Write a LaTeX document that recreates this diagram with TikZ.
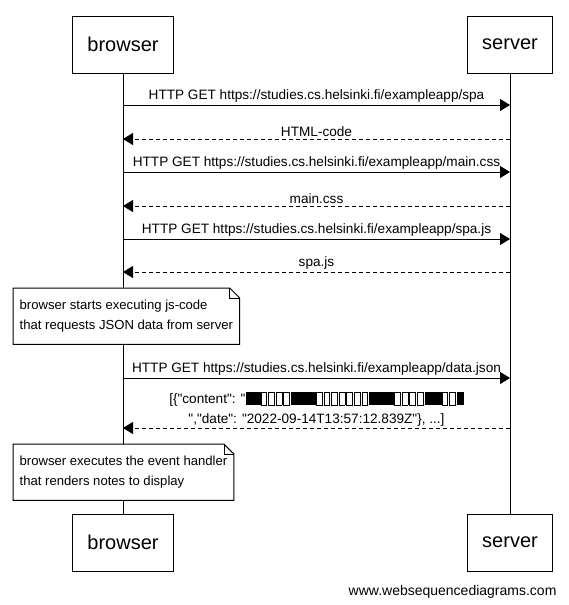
\documentclass[tikz,border=0pt]{standalone}
\usepackage{fontspec}
\setmainfont{Liberation Sans}[Ligatures=TeXOff]
\usetikzlibrary{arrows.meta,positioning}
\tikzstyle{actor} = [rectangle, draw, line width=1pt, minimum height=57pt, inner xsep=14.5pt, font=\fontsize{20}{24}\selectfont]
\tikzstyle{lifeline} = [line width=1pt]
\tikzstyle{msg} = [line width=1pt, -{Triangle[length=10pt,width=12pt]}]
\tikzstyle{reply} = [msg, dash pattern=on 4pt off 3pt]
\tikzstyle{msglabel} = [above, inner sep=2pt, font=\fontsize{13.6}{20}\selectfont, align=center]
\tikzstyle{note} = [rectangle, fill=white, align=left, anchor=north west, inner xsep=6.5pt, inner ysep=0pt, minimum height=56pt, font=\fontsize{13.1}{20}\selectfont]
% glyphs the font could not show
\newcommand{\tofu}{{\fboxsep=0pt\fboxrule=0.8pt\fbox{\rule[-1pt]{0pt}{12pt}\hspace{5pt}}}\kern1pt}
\newcommand{\blot}[1]{\rule[-1pt]{#1}{13pt}}
\newcommand{\notefold}[1]{%
  \draw[line width=1pt] (#1.south west) -- (#1.north west) -- ([xshift=-10pt]#1.north east) -- ([yshift=-10pt]#1.north east) -- (#1.south east) -- cycle;
  \draw[line width=0.6pt] ([xshift=-10pt]#1.north east) |- ([yshift=-10pt]#1.north east);}

\begin{document}
\begin{tikzpicture}[x=1pt,y=-1pt]
\useasboundingbox (0,0) rectangle (568,605);
% participants
\node (browser) [actor] at (123,44.5) {browser};
\node (server) [actor] at (510,44.5) {server};
\node (browser2) [actor] at (123,542.5) {browser};
\node (server2) [actor] at (510,542.5) {server};
\draw[lifeline] (browser) -- (browser2);
\draw[lifeline] (server) -- (server2);

% messages
\coordinate (b1) at (browser |- 0,105); \coordinate (s1) at (server |- 0,105);
\coordinate (b2) at (browser |- 0,139); \coordinate (s2) at (server |- 0,139);
\coordinate (b3) at (browser |- 0,172); \coordinate (s3) at (server |- 0,172);
\coordinate (b4) at (browser |- 0,206); \coordinate (s4) at (server |- 0,206);
\coordinate (b5) at (browser |- 0,239); \coordinate (s5) at (server |- 0,239);
\coordinate (b6) at (browser |- 0,272); \coordinate (s6) at (server |- 0,272);
\coordinate (b7) at (browser |- 0,378); \coordinate (s7) at (server |- 0,378);
\coordinate (b8) at (browser |- 0,428); \coordinate (s8) at (server |- 0,428);

\draw[msg] (b1) -- node[msglabel] {HTTP GET https://studies.cs.helsinki.fi/exampleapp/spa} (s1);
\draw[reply] (s2) -- node[msglabel] {HTML-code} (b2);
\draw[msg] (b3) -- node[msglabel] {HTTP GET https://studies.cs.helsinki.fi/exampleapp/main.css} (s3);
\draw[reply] (s4) -- node[msglabel] {main.css} (b4);
\draw[msg] (b5) -- node[msglabel] {HTTP GET https://studies.cs.helsinki.fi/exampleapp/spa.js} (s5);
\draw[reply] (s6) -- node[msglabel] {spa.js} (b6);
\draw[msg] (b7) -- node[msglabel] {HTTP GET https://studies.cs.helsinki.fi/exampleapp/data.json} (s7);
\draw[reply] (s8) -- node[msglabel, inner sep=1pt] {[\{"content": "\blot{15pt}\tofu\tofu\tofu\tofu\blot{25pt}\tofu\tofu\tofu\tofu\tofu\tofu\tofu\blot{25pt}\tofu\tofu\tofu\tofu\blot{17pt}\tofu\tofu\blot{7pt}\\","date": "2022-09-14T13:57:12.839Z"\}, ...]} (b8);

% notes
\node (note1) [note] at (13,288) {browser starts executing js-code\\that requests JSON data from server};
\notefold{note1}
\node (note2) [note] at (13,444) {browser executes the event handler\\that renders notes to display};
\notefold{note2}

\node (credit) [anchor=base east, font=\fontsize{14}{16}\selectfont] at (560,595) {www.websequencediagrams.com};
\end{tikzpicture}
\end{document}
